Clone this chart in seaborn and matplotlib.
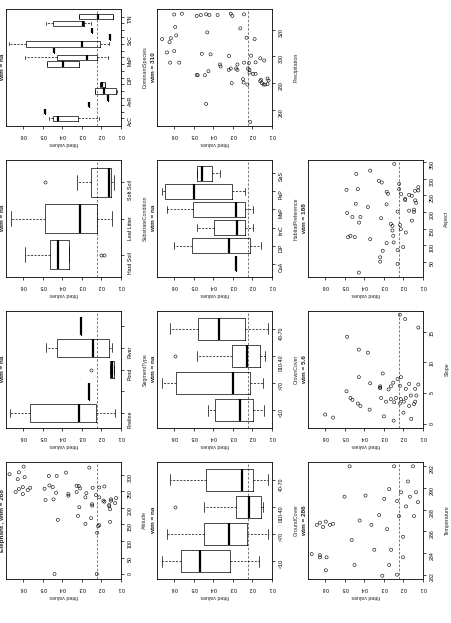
import numpy as np
import pandas as pd
import seaborn as sns
import matplotlib.pyplot as plt

sns.set_theme(style='white')
plt.rcParams['font.family'] = ['Liberation Sans', 'DejaVu Sans']

# ---- scatter panels: fitted value vs predictor ----
alt_fit = [0.670, 0.598, 0.622, 0.628, 0.593, 0.639, 0.622, 0.602, 0.602, 0.577, 0.564, 0.491,
           0.486, 0.466, 0.449, 0.429, 0.469, 0.432, 0.445, 0.423, 0.381, 0.369, 0.369, 0.327,
           0.316, 0.309, 0.327, 0.282, 0.277, 0.262, 0.245, 0.248, 0.247, 0.253, 0.282, 0.313,
           0.320, 0.217, 0.211, 0.222, 0.228, 0.211, 0.190, 0.185, 0.211, 0.185, 0.160, 0.151,
           0.151, 0.156, 0.160, 0.156, 0.440, 0.224, 0.130, 0.125]
alt_val = [302, 325, 308, 287, 293, 248, 257, 263, 242, 254, 261, 258,
           224, 268, 263, 297, 297, 246, 226, 164, 307, 242, 237, 267,
           266, 259, 248, 232, 245, 322, 261, 211, 207, 169, 152, 202,
           176, 145, 148, 125, 239, 232, 222, 265, 262, 219, 209, 222,
           226, 196, 205, 158, 0, 0, 215, 230]

prec_fit = [0.600, 0.561, 0.485, 0.464, 0.437, 0.420, 0.378, 0.311, 0.303, 0.243, 0.595, 0.262,
            0.431, 0.590, 0.662, 0.617, 0.624, 0.230, 0.189, 0.637, 0.600, 0.459, 0.414, 0.320,
            0.207, 0.621, 0.574, 0.160, 0.140, 0.184, 0.243, 0.366, 0.363, 0.277, 0.284, 0.277,
            0.311, 0.321, 0.218, 0.223, 0.215, 0.215, 0.198, 0.184, 0.425, 0.485, 0.480, 0.443,
            0.248, 0.245, 0.306, 0.226, 0.156, 0.160, 0.123, 0.118, 0.151, 0.143, 0.135, 0.123,
            0.437, 0.211]
prec_val = [331.4, 332, 330.4, 331, 331.5, 331, 331, 332, 330.4, 331.5, 322, 321,
            318, 315.7, 313, 313.6, 310.7, 314, 313, 303, 304, 302, 301.6, 300.4,
            300.6, 295.4, 295.4, 298.6, 297, 295.6, 295.4, 294, 292.5, 294, 291, 290,
            291, 290, 295, 291, 290, 288, 287, 287, 289, 286.2, 286, 286,
            283, 280.5, 280, 279, 282.5, 281.5, 283.5, 282, 280, 279, 279, 279.3,
            264.5, 251]

temp_fit = [0.669, 0.627, 0.627, 0.593, 0.597, 0.643, 0.627, 0.611, 0.597, 0.576, 0.560, 0.501,
            0.475, 0.450, 0.465, 0.424, 0.394, 0.364, 0.349, 0.324, 0.298, 0.283, 0.273, 0.263,
            0.248, 0.233, 0.223, 0.212, 0.202, 0.187, 0.177, 0.167, 0.151, 0.146, 0.136, 0.126,
            0.202, 0.233, 0.273, 0.308]
temp_val = [283.9, 283.8, 283.6, 283.6, 282.4, 286.6, 286.8, 286.4, 286.9, 286.6, 286.7, 289.2,
            292.0, 282.9, 285.2, 287.0, 289.3, 286.6, 284.3, 287.5, 289.0, 286.2, 289.9, 284.3,
            292.0, 288.8, 287.4, 289.6, 285.5, 288.3, 290.6, 289.2, 292.0, 287.4, 289.6, 288.7,
            283.6, 282.0, 282.9, 281.9]

slope_fit = [0.218, 0.191, 0.124, 0.488, 0.428, 0.382, 0.306, 0.428, 0.213, 0.230, 0.252, 0.370,
             0.319, 0.319, 0.319, 0.264, 0.218, 0.171, 0.124, 0.491, 0.140, 0.276, 0.188, 0.471,
             0.461, 0.433, 0.420, 0.314, 0.264, 0.238, 0.213, 0.188, 0.162, 0.134, 0.289, 0.247,
             0.218, 0.198, 0.171, 0.146, 0.140, 0.373, 0.600, 0.560, 0.300, 0.250, 0.200, 0.160]
slope_val = [17.8, 17.1, 15.7, 14.2, 12.1, 11.6, 8.2, 7.6, 7.6, 7.3, 6.7, 6.6,
             6.1, 5.9, 5.8, 6.1, 6.2, 6.5, 6.4, 5.3, 5.7, 5.6, 5.7, 4.2,
             3.9, 3.3, 2.9, 4.2, 4.0, 4.2, 4.0, 4.2, 4.6, 4.6, 3.6, 3.5,
             3.3, 3.6, 2.9, 3.2, 3.6, 2.3, 1.5, 1.0, 1.2, 0.5, 1.8, 0.8]

asp_fit = [0.444, 0.382, 0.286, 0.230, 0.171, 0.146, 0.146, 0.157, 0.488, 0.461, 0.420, 0.427,
           0.314, 0.264, 0.256, 0.218, 0.483, 0.471, 0.449, 0.370, 0.256, 0.252, 0.188, 0.286,
           0.250, 0.306, 0.319, 0.319, 0.230, 0.201, 0.230, 0.428, 0.213, 0.247, 0.370, 0.441,
           0.326, 0.311, 0.222, 0.491, 0.433, 0.286, 0.279, 0.222, 0.212, 0.140, 0.124, 0.124,
           0.191, 0.191, 0.157, 0.171, 0.140, 0.135]
asp_val = [225, 215, 223, 201, 204, 207, 200, 174, 197, 185, 185, 168,
           181, 164, 158, 161, 124, 128, 124, 118, 144, 128, 138, 106,
           108, 83, 63, 50, 85, 94, 43, 17, 148, 345, 325, 315,
           294, 289, 285, 267, 269, 261, 255, 269, 254, 264, 275, 265,
           240, 236, 249, 252, 235, 228]

# ---- box panels: one entry per category, None = empty group ----
# [whislo, q1, median, q3, whishi]
seg_labels = ['Fireline', '', 'Pond', 'River', '']
seg_stats = [[0.130, 0.228, 0.316, 0.564, 0.670], [0.262] * 5, [0.134, 0.134, 0.145, 0.155, 0.155],
             [0.144, 0.163, 0.245, 0.429, 0.486], [0.304] * 5]
seg_out = [[], [], [0.253], [], []]

sub_labels = ['Hard Soil', 'Leaf Litter', 'Soft Soil']
sub_stats = [[0.367, 0.367, 0.423, 0.462, 0.593], [0.144, 0.224, 0.308, 0.488, 0.661],
             [0.134, 0.151, 0.160, 0.253, 0.327]]
sub_out = [[0.202, 0.185], [], [0.488]]

dom_labels = ['AcC', '', '', 'AnR', '', '', 'DiP', '', '', 'MaP', '', '', 'ScC', '', '', 'T/N']
dom_stats = [[0.211, 0.321, 0.420, 0.449, 0.469], [0.488] * 5, [0.262] * 5, [0.166] * 5,
             [0.120, 0.125, 0.185, 0.233, 0.233], [0.180, 0.180, 0.195, 0.207, 0.207],
             None, None,
             [0.316, 0.316, 0.398, 0.479, 0.479], [0.168, 0.222, 0.275, 0.429, 0.593],
             [0.444] * 5, [0.160, 0.205, 0.299, 0.588, 0.672],
             [0.155] * 5, [0.248] * 5, [0.253, 0.287, 0.292, 0.449, 0.486],
             [0.142, 0.142, 0.219, 0.313, 0.313]]
dom_out = [[]] * 16

gc_labels = ['<10', '>70', '010-40', '40-70']
gc_stats = [[0.164, 0.316, 0.468, 0.566, 0.662], [0.122, 0.229, 0.320, 0.446, 0.637],
            [0.144, 0.156, 0.218, 0.286, 0.446], [0.122, 0.198, 0.252, 0.438, 0.620]]
gc_out = [[], [], [0.594], []]

cc_labels = ['<10', '>70', '010-40', '40-70']
cc_stats = [[0.139, 0.198, 0.262, 0.389, 0.428], [0.148, 0.211, 0.300, 0.591, 0.662],
            [0.134, 0.161, 0.227, 0.302, 0.485], [0.122, 0.240, 0.372, 0.477, 0.624]]
cc_out = [[], [], [0.595], []]

hab_labels = ['CaA', 'DiP', 'ImC', 'MaP', 'PaP', 'SaS']
hab_stats = [[0.282] * 5, [0.156, 0.210, 0.320, 0.510, 0.603], [0.198, 0.240, 0.279, 0.397, 0.485],
             [0.198, 0.240, 0.282, 0.505, 0.637], [0.240, 0.302, 0.497, 0.645, 0.662],
             [0.367, 0.407, 0.460, 0.482, 0.482]]
hab_out = [[]] * 6

ref_line = 0.223
fit_ticks = [0.1, 0.2, 0.3, 0.4, 0.5, 0.6]

W, H = 451, 623
fig = plt.figure(figsize=(W / 100, H / 100), dpi=100)
fig.patch.set_facecolor('white')

col_x = [6, 157, 308]
row_y = [9, 160, 311, 462]
PW, PH = 115, 117


def make_ax(col, row, title, xlab):
    ax = fig.add_axes([col_x[col] / W, 1 - (row_y[row] + PH) / H, PW / W, PH / H])
    ax.set_facecolor('white')
    ax.yaxis.tick_right()
    ax.yaxis.set_label_position('right')
    ax.tick_params(axis='both', direction='out', length=2.2, width=0.5, labelsize=3.8,
                   pad=2.6, colors='black', bottom=True, right=True)
    ax.tick_params(axis='y', labelrotation=90)
    for s in ax.spines.values():
        s.set_linewidth(0.6)
        s.set_color('black')
    ax.text(-0.03, 0.5, title, transform=ax.transAxes, rotation=90, ha='center',
            va='center', fontweight='bold', fontsize=4.6)
    ax.axvline(ref_line, color='#666666', ls=(0, (3, 2)), lw=0.6, zorder=0)
    return ax


def finish(ax, xlab):
    # fitted values run right-to-left, labels upside down like the rotated page
    ax.set_xlim(0.688, 0.103)
    ax.set_xticks(fit_ticks)
    ax.set_xticklabels([f'{t:.1f}' for t in fit_ticks], rotation=180)
    ax.set_xlabel('fitted values', rotation=180, fontsize=3.8, labelpad=2.5)
    ax.set_ylabel(xlab, rotation=90, fontsize=3.8, labelpad=7)


def scatter_panel(col, row, title, xlab, fit, val, lim, ticks):
    ax = make_ax(col, row, title, xlab)
    df = pd.DataFrame({'fit': fit, 'val': val})
    sns.scatterplot(data=df, x='fit', y='val', ax=ax, color='none', edgecolor='black',
                    s=5, linewidth=0.4)
    ax.set_ylim(*lim)
    ax.set_yticks(ticks)
    finish(ax, xlab)
    return ax


def box_panel(col, row, title, xlab, labels, stats, outs):
    ax = make_ax(col, row, title, xlab)
    n = len(labels)
    bs, pos = [], []
    for i, (lab, st, o) in enumerate(zip(labels, stats, outs)):
        if st is None:
            continue
        bs.append({'whislo': st[0], 'q1': st[1], 'med': st[2], 'q3': st[3],
                   'whishi': st[4], 'fliers': o, 'label': lab})
        pos.append(i + 1)
    ax.bxp(bs, positions=pos, widths=0.8, orientation='horizontal',
           manage_ticks=False, patch_artist=False,
           boxprops=dict(color='black', lw=0.5),
           medianprops=dict(color='black', lw=1.6, solid_capstyle='butt'),
           whiskerprops=dict(color='black', lw=0.5, ls=(0, (3, 2))),
           capprops=dict(color='black', lw=0.5),
           flierprops=dict(marker='o', markersize=2.2, markerfacecolor='none',
                           markeredgecolor='black', markeredgewidth=0.4))
    ax.set_ylim(0.5 - 0.04 * n, n + 0.5 + 0.04 * n)
    ax.set_yticks(range(1, n + 1))
    ax.set_yticklabels(labels)
    finish(ax, xlab)
    return ax


# original first row (left image column)
scatter_panel(0, 3, 'Elephant , wtm = 268', 'Altitude', alt_fit, alt_val, (-15, 339),
              [0, 50, 100, 150, 200, 250, 300])
box_panel(0, 2, 'wtm = na', 'SegmentType', seg_labels, seg_stats, seg_out)
box_panel(0, 1, 'wtm = na', 'SubstrateCondition', sub_labels, sub_stats, sub_out)
box_panel(0, 0, 'wtm = na', 'DominantSpecies', dom_labels, dom_stats, dom_out)

# second row
box_panel(1, 3, 'wtm = na', 'GroundCover', gc_labels, gc_stats, gc_out)
box_panel(1, 2, 'wtm = na', 'CrownCover', cc_labels, cc_stats, cc_out)
box_panel(1, 1, 'wtm = na', 'HabitatPreference', hab_labels, hab_stats, hab_out)
scatter_panel(1, 0, 'wtm = 310', 'Precipitation', prec_fit, prec_val, (248, 335.5),
              [260, 280, 300, 320])

# third row
scatter_panel(2, 3, 'wtm = 286', 'Temperature', temp_fit, temp_val, (281.6, 292.4),
              [282, 284, 286, 288, 290, 292])
scatter_panel(2, 2, 'wtm = 5.6', 'Slope', slope_fit, slope_val, (-0.7, 18.4), [0, 5, 10, 15])
scatter_panel(2, 1, 'wtm = 188', 'Aspect', asp_fit, asp_val, (3.6, 357),
              [50, 100, 150, 200, 250, 300, 350])

fig.savefig('out.png', dpi=100, facecolor='white')
